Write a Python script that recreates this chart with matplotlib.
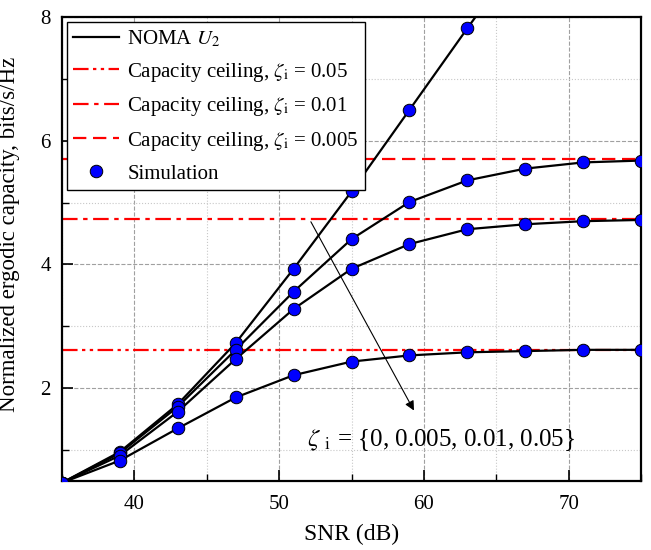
import matplotlib
matplotlib.use('Agg')
import matplotlib.pyplot as plt
from matplotlib.ticker import MultipleLocator

plt.rcParams['font.family'] = ['Liberation Serif', 'DejaVu Serif']
plt.rcParams['mathtext.fontset'] = 'stix'

# SNR points (dB)
snr = [35, 39, 43, 47, 51, 55, 59, 63, 67, 71, 75]

# normalized ergodic capacity of U2 for each zeta_i
cap_z0 = [0.47, 0.97, 1.74, 2.73, 3.93, 5.18, 6.50, 7.82, 9.12, 10.42, 11.72]
cap_z0005 = [0.47, 0.95, 1.70, 2.62, 3.56, 4.41, 5.01, 5.36, 5.55, 5.65, 5.68]
cap_z001 = [0.47, 0.91, 1.62, 2.47, 3.28, 3.93, 4.33, 4.57, 4.65, 4.70, 4.72]
cap_z005 = [0.47, 0.83, 1.35, 1.85, 2.21, 2.43, 2.53, 2.58, 2.60, 2.62, 2.62]

# capacity ceilings
ceil_005 = 2.61
ceil_001 = 4.73
ceil_0005 = 5.70

fig = plt.figure(figsize=(6.51, 5.5), dpi=100)
ax = fig.add_axes([0.095, 0.1255, 0.89, 0.8435])

ax.plot(snr, cap_z0, color='black', lw=1.6, label=r'NOMA $U_2$', zorder=3)
for c in (cap_z0005, cap_z001, cap_z005):
    ax.plot(snr, c, color='black', lw=1.6, zorder=3)

ax.axhline(ceil_005, color='red', lw=1.6, dashes=[7, 2, 1.5, 2, 1.5, 2],
           label=r'Capacity ceiling, $\zeta_{\mathrm{i}}$ = 0.05', zorder=2)
ax.axhline(ceil_001, color='red', lw=1.6, dashes=[7, 2.5, 2, 2.5],
           label=r'Capacity ceiling, $\zeta_{\mathrm{i}}$ = 0.01', zorder=2)
ax.axhline(ceil_0005, color='red', lw=1.6, dashes=[6, 3],
           label=r'Capacity ceiling, $\zeta_{\mathrm{i}}$ = 0.005', zorder=2)

for i, c in enumerate((cap_z0, cap_z0005, cap_z001, cap_z005)):
    ax.plot(snr, c, 'o', color='#0000ff', mec='black', mew=0.7, ms=9,
            label='Simulation' if i == 0 else None, zorder=4)

ax.set_xlim(35, 75)
ax.set_ylim(0.5, 8)
ax.xaxis.set_major_locator(MultipleLocator(10))
ax.xaxis.set_minor_locator(MultipleLocator(5))
ax.yaxis.set_major_locator(MultipleLocator(2))
ax.yaxis.set_minor_locator(MultipleLocator(1))
ax.grid(which='major', color='#a0a0a0', ls='--', lw=0.8)
ax.grid(which='minor', color='#c8c8c8', ls=':', lw=0.8)
ax.tick_params(which='major', direction='in', length=8, width=1.2, labelsize=15)
ax.tick_params(axis='x', which='major', pad=10)
ax.tick_params(axis='y', which='major', pad=8)
ax.tick_params(which='minor', direction='in', length=5, width=1.0)
for s in ax.spines.values():
    s.set_linewidth(1.6)

ax.set_xlabel('SNR (dB)', fontsize=17, labelpad=7)
ax.set_ylabel('Normalized ergodic capacity, bits/s/Hz', fontsize=16.5)
ax.yaxis.set_label_coords(-0.072, 0.532)

ax.annotate('', xy=(59.4, 1.6), xytext=(52.1, 4.73),
            arrowprops=dict(arrowstyle='-|>', color='black', lw=0.8,
                            mutation_scale=14), zorder=5)
ax.text(61.2, 1.16, r'$\zeta$ $_{\mathrm{i}}$ = {0, 0.005, 0.01, 0.05}',
        fontsize=18, ha='center', va='center', zorder=5)

leg = ax.legend(loc='upper left', fontsize=15, frameon=True, fancybox=False,
                edgecolor='black', framealpha=1, handlelength=2.2,
                borderaxespad=0.25, borderpad=0.3, labelspacing=0.55,
                handletextpad=0.4)
leg.get_frame().set_linewidth(1.0)
leg.set_zorder(6)

fig.savefig('out.png', dpi=100)
